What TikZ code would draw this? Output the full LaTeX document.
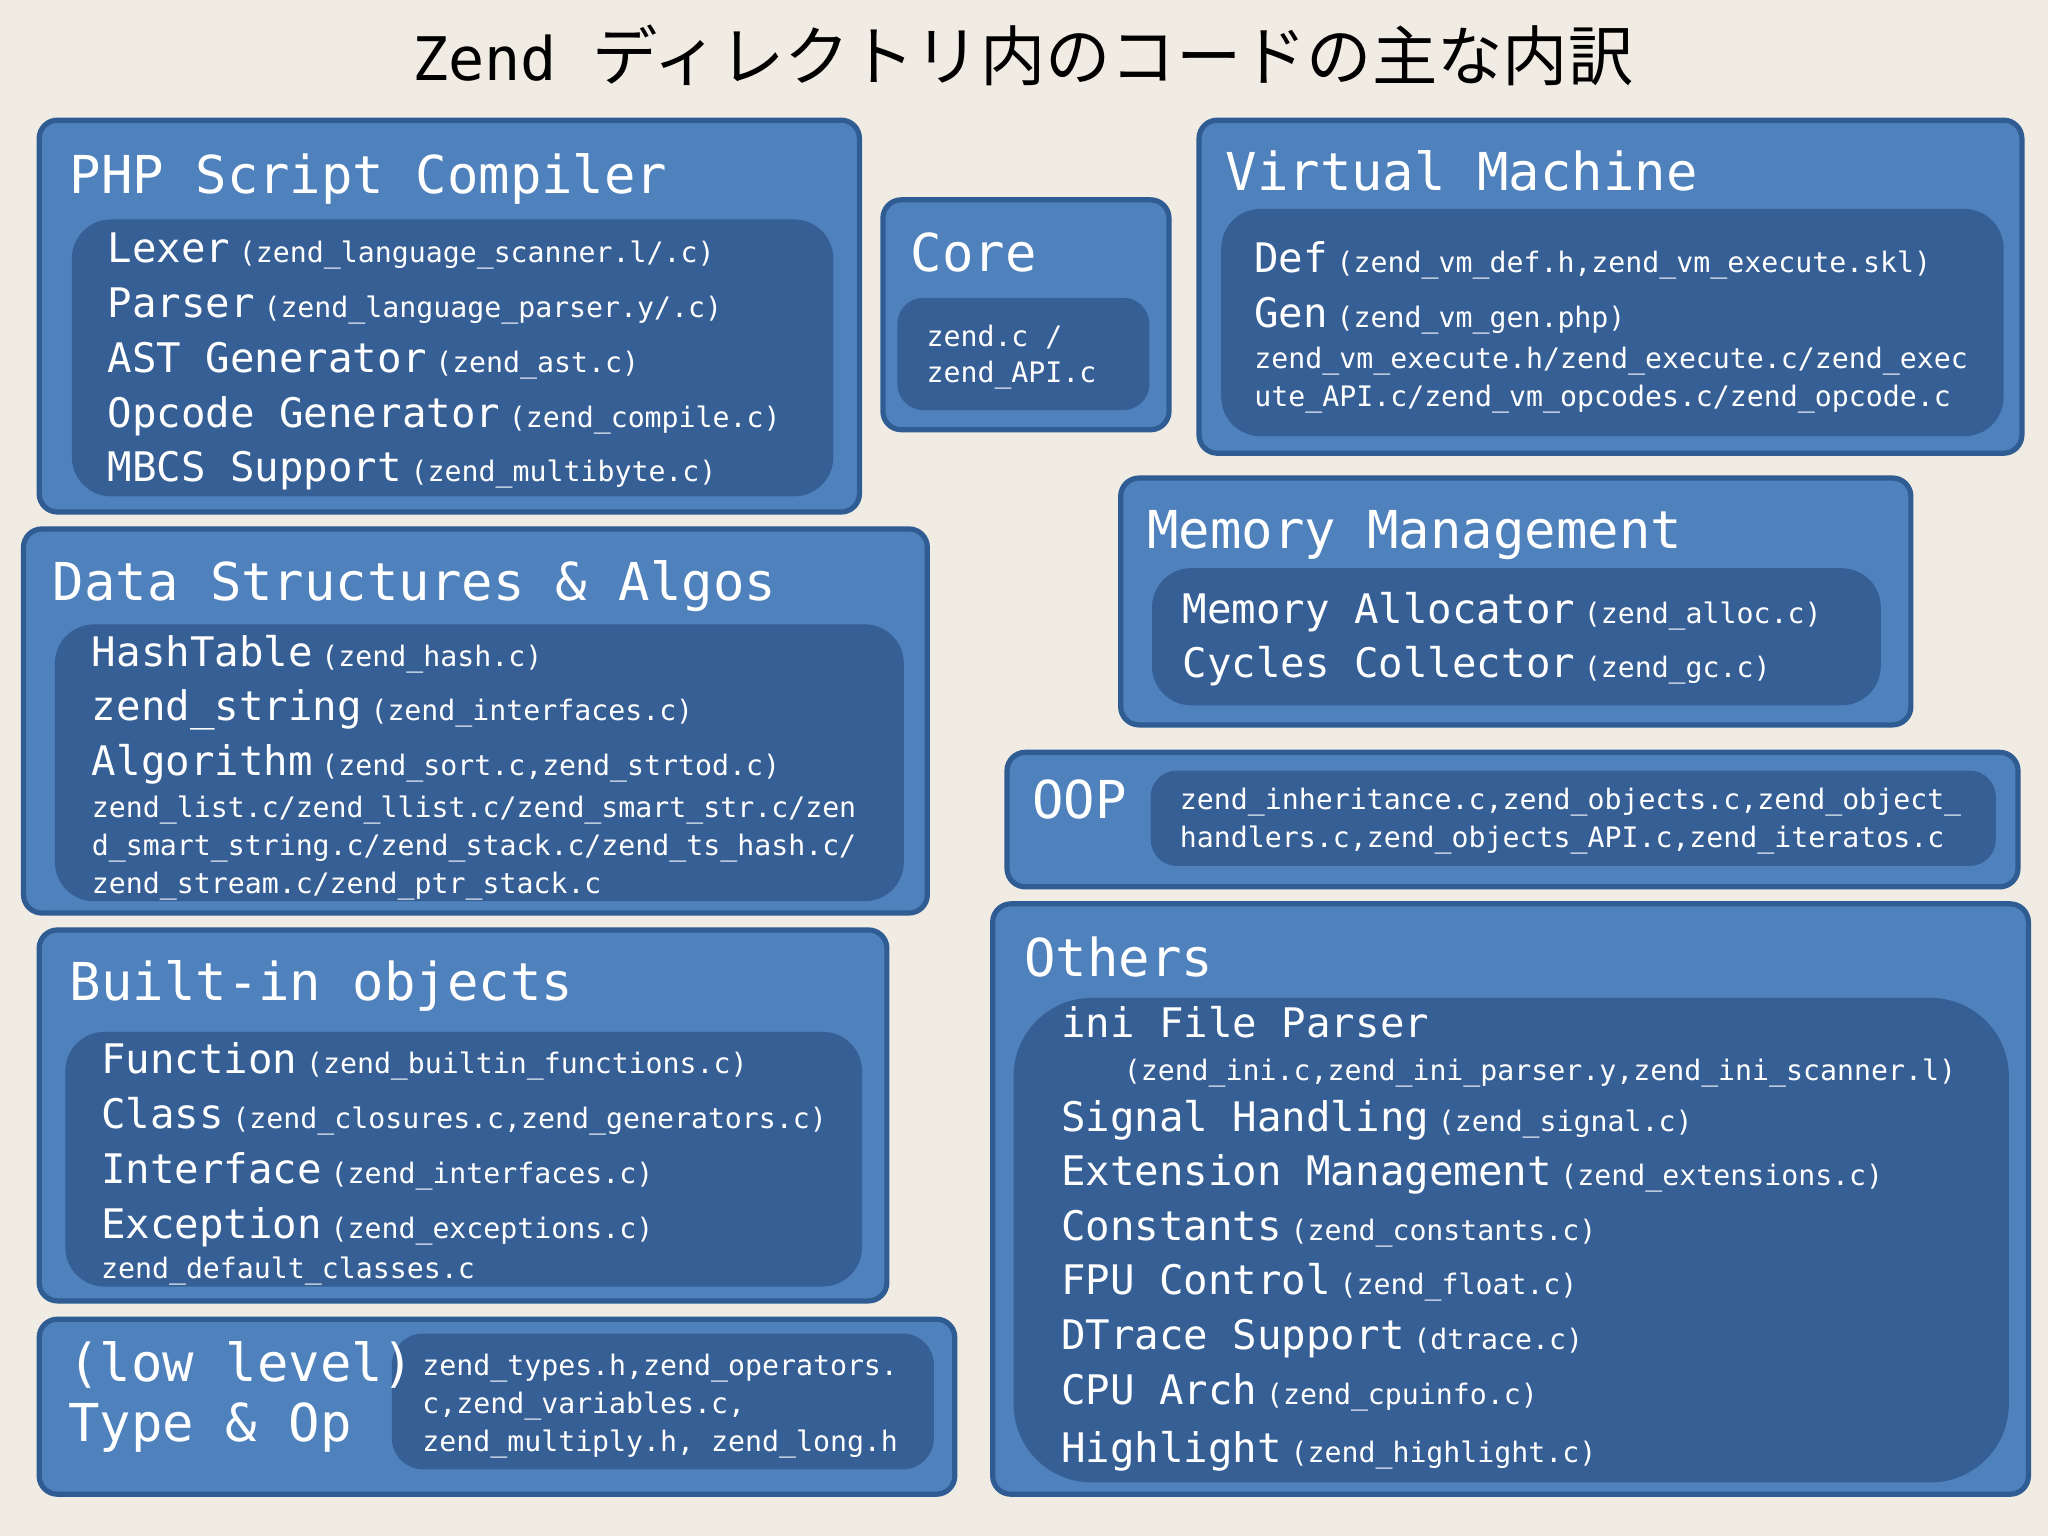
\documentclass[tikz,border=0pt]{standalone}
\usepackage{fontspec}
\setmonofont{DejaVu Sans Mono}
\newfontfamily\cjk{Noto Sans CJK JP}
\newfontfamily\mn{DejaVu Sans Mono}
\definecolor{bg}{HTML}{F0ECE3}
\definecolor{outerc}{HTML}{4F81BD}
\definecolor{bordc}{HTML}{2F5C93}
\definecolor{innerc}{HTML}{365F96}
\newcommand{\hd}{\mn\fontsize{20}{24}\selectfont}
\newcommand{\bg}{\mn\fontsize{15.6}{18}\selectfont}
\newcommand{\sm}{\mn\fontsize{10.8}{13}\selectfont}
\newcommand{\itm}[2]{{\bg #1} {\sm #2}}
\tikzset{
 outerbox/.style={draw=bordc,line width=2pt,fill=outerc,rounded corners=7pt},
 innerbox/.style={fill=innerc,rounded corners=15pt},
 txt/.style={anchor=base west,inner sep=0,text=white},
}
\begin{document}
\begin{tikzpicture}[x=0.5pt,y=-0.5pt]
\useasboundingbox[fill=bg] (0,0) rectangle (1568,1176);
\node[anchor=base,inner sep=0] (title) at (783,62) {\mn\fontsize{23}{28}\selectfont Zend \cjk\fontsize{25}{30}\selectfont ディレクトリ内のコードの主な内訳};
% Compiler
\draw[outerbox] (30,92) rectangle (658,392);
\fill[innerbox] (55,168) rectangle (638,380);
\node[txt] (c0) at (53,148) {\hd PHP Script Compiler};
\node[txt] (c1) at (82,201) {\itm{Lexer}{(zend\_language\_scanner.l/.c)}};
\node[txt] (c2) at (82,243) {\itm{Parser}{(zend\_language\_parser.y/.c)}};
\node[txt] (c3) at (82,285) {\itm{AST Generator}{(zend\_ast.c)}};
\node[txt] (c4) at (82,327) {\itm{Opcode Generator}{(zend\_compile.c)}};
\node[txt] (c5) at (82,369) {\itm{MBCS Support}{(zend\_multibyte.c)}};
% Core
\draw[outerbox] (676,153) rectangle (895,329);
\fill[innerbox,rounded corners=10pt] (687,228) rectangle (880,314);
\node[txt] (k0) at (697,208) {\hd Core};
\node[txt] (k1) at (709,265) {\sm zend.c /};
\node[txt] (k2) at (709,293) {\sm zend\_API.c};
% VM
\draw[outerbox] (918,92) rectangle (1548,347);
\fill[innerbox] (935,160) rectangle (1534,334);
\node[txt] (v0) at (938,146) {\hd Virtual Machine};
\node[txt] (v1) at (960,209) {\itm{Def}{(zend\_vm\_def.h,zend\_vm\_execute.skl)}};
\node[txt] (v2) at (960,251) {\itm{Gen}{(zend\_vm\_gen.php)}};
\node[txt] (v3) at (960,282) {\sm zend\_vm\_execute.h/zend\_execute.c/zend\_exec};
\node[txt] (v4) at (960,311) {\sm ute\_API.c/zend\_vm\_opcodes.c/zend\_opcode.c};
% DS
\draw[outerbox] (18,405) rectangle (710,699);
\fill[innerbox] (42,478) rectangle (692,690);
\node[txt] (d0) at (40,460) {\hd Data Structures \& Algos};
\node[txt] (d1) at (70,510) {\itm{HashTable}{(zend\_hash.c)}};
\node[txt] (d2) at (70,552) {\itm{zend\_string}{(zend\_interfaces.c)}};
\node[txt] (d3) at (70,594) {\itm{Algorithm}{(zend\_sort.c,zend\_strtod.c)}};
\node[txt] (d4) at (70,626) {\sm zend\_list.c/zend\_llist.c/zend\_smart\_str.c/zen};
\node[txt] (d5) at (70,655) {\sm d\_smart\_string.c/zend\_stack.c/zend\_ts\_hash.c/};
\node[txt] (d6) at (70,684) {\sm zend\_stream.c/zend\_ptr\_stack.c};
% Memory
\draw[outerbox] (858,366) rectangle (1463,555);
\fill[innerbox] (882,435) rectangle (1440,540);
\node[txt] (m0) at (878,420) {\hd Memory Management};
\node[txt] (m1) at (905,477) {\itm{Memory Allocator}{(zend\_alloc.c)}};
\node[txt] (m2) at (905,519) {\itm{Cycles Collector}{(zend\_gc.c)}};
% OOP
\draw[outerbox] (771,576) rectangle (1545,679);
\fill[innerbox,rounded corners=10pt] (881,590) rectangle (1528,663);
\node[txt] (o0) at (790,627) {\hd OOP};
\node[txt] (o1) at (903,620) {\sm zend\_inheritance.c,zend\_objects.c,zend\_object\_};
\node[txt] (o2) at (903,649) {\sm handlers.c,zend\_objects\_API.c,zend\_iteratos.c};
% Builtin
\draw[outerbox] (30,712) rectangle (679,996);
\fill[innerbox] (50,790) rectangle (660,985);
\node[txt] (b0) at (53,766) {\hd Built-in objects};
\node[txt] (b1) at (77,822) {\itm{Function}{(zend\_builtin\_functions.c)}};
\node[txt] (b2) at (77,864) {\itm{Class}{(zend\_closures.c,zend\_generators.c)}};
\node[txt] (b3) at (77,906) {\itm{Interface}{(zend\_interfaces.c)}};
\node[txt] (b4) at (77,948) {\itm{Exception}{(zend\_exceptions.c)}};
\node[txt] (b5) at (77,979) {\sm zend\_default\_classes.c};
% Type
\draw[outerbox] (30,1010) rectangle (731,1144);
\fill[innerbox,rounded corners=12pt] (300,1021) rectangle (715,1125);
\node[txt] (t0) at (52,1058) {\hd (low level)};
\node[txt] (t1) at (52,1104) {\hd Type \& Op};
\node[txt] (t2) at (323,1053) {\sm zend\_types.h,zend\_operators.};
\node[txt] (t3) at (323,1082) {\sm c,zend\_variables.c,};
\node[txt] (t4) at (323,1111) {\sm zend\_multiply.h, zend\_long.h};
% Others
\draw[outerbox] (760,692) rectangle (1553,1144);
\fill[innerbox,rounded corners=30pt] (776,764) rectangle (1538,1135);
\node[txt] (x0) at (784,748) {\hd Others};
\node[txt] (x1) at (812,794) {\bg ini File Parser};
\node[txt] (x2) at (860,827) {\sm (zend\_ini.c,zend\_ini\_parser.y,zend\_ini\_scanner.l)};
\node[txt] (x3) at (812,866) {\itm{Signal Handling}{(zend\_signal.c)}};
\node[txt] (x4) at (812,908) {\itm{Extension Management}{(zend\_extensions.c)}};
\node[txt] (x5) at (812,950) {\itm{Constants}{(zend\_constants.c)}};
\node[txt] (x6) at (812,991) {\itm{FPU Control}{(zend\_float.c)}};
\node[txt] (x7) at (812,1033) {\itm{DTrace Support}{(dtrace.c)}};
\node[txt] (x8) at (812,1075) {\itm{CPU Arch}{(zend\_cpuinfo.c)}};
\node[txt] (x9) at (812,1120) {\itm{Highlight}{(zend\_highlight.c)}};
\end{tikzpicture}
\end{document}
